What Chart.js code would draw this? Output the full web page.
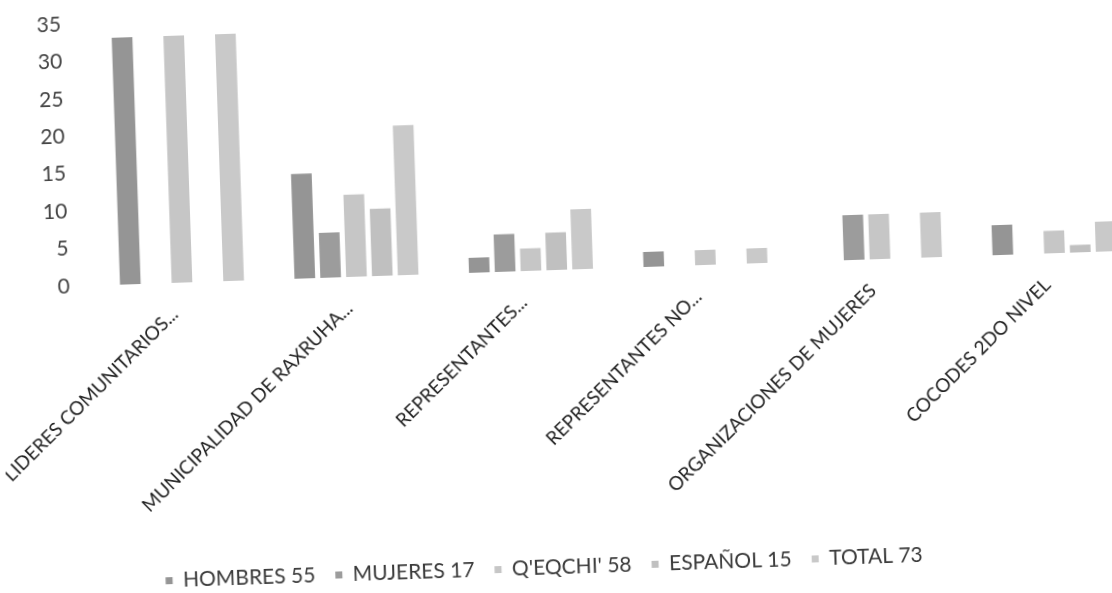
<!DOCTYPE html>
<html><head><meta charset="utf-8">
<script src="https://cdn.jsdelivr.net/npm/chart.js@4.4.1/dist/chart.umd.min.js"></script>
<style>
html,body{margin:0;padding:0;background:#fff;overflow:hidden;width:1112px;height:593px}
#page{position:absolute;left:0;top:0;width:1112px;height:593px;transform-origin:556px 296px;transform:rotate(-1.93deg)}
#box{position:absolute;left:0;top:-4px;width:1150px;height:600px}
</style></head><body>
<div id="page"><div id="box"><canvas id="c"></canvas></div></div>
<script>
const categories = ['LIDERES COMUNITARIOS...', 'MUNICIPALIDAD DE RAXRUHA...', 'REPRESENTANTES...', 'REPRESENTANTES NO...', 'ORGANIZACIONES DE MUJERES', 'COCODES 2DO NIVEL'];
const seriesNames = ['HOMBRES 55', 'MUJERES 17', "Q'EQCHI' 58", 'ESPAÑOL 15', 'TOTAL 73'];
const hombres = [33, 14, 2, 2, 0, 4];
const mujeres = [0, 6, 5, 0, 6, 0];
const qeqchi = [33, 11, 3, 2, 6, 3];
const espanol = [0, 9, 5, 0, 0, 1];
const total = [33, 20, 8, 2, 6, 4];
const yTicks = [0, 5, 10, 15, 20, 25, 30, 35];

const seriesColors = ['#959595', '#9c9c9c', '#c6c6c6', '#c0c0c0', '#c9c9c9'];
const seriesValues = [hombres, mujeres, qeqchi, espanol, total];

Chart.defaults.font.family = 'Lato, "Open Sans", sans-serif';
Chart.defaults.font.size = 21;
Chart.defaults.color = '#3a3a3a';

const legendShift = {
  id: 'legendShift',
  afterLayout(chart) {
    const l = chart.legend;
    const dx = 545 - (l.left + l.right + 20) / 2;
    l.left += dx; l.right += dx;
  }
};

new Chart(document.getElementById('c'), {
  type: 'bar',
  data: {
    labels: categories,
    datasets: seriesNames.map((n, i) => ({
      label: n,
      data: seriesValues[i],
      backgroundColor: seriesColors[i],
      borderWidth: 0,
      barPercentage: 0.8,
      categoryPercentage: 0.74
    }))
  },
  options: {
    responsive: true,
    maintainAspectRatio: false,
    animation: false,
    devicePixelRatio: 1,
    layout: { padding: { left: 29, right: 7, top: 12, bottom: 8 } },
    plugins: {
      legend: {
        position: 'bottom',
        labels: { boxWidth: 7, boxHeight: 7, padding: 20, color: '#3a3a3a' }
      },
      tooltip: { enabled: false }
    },
    scales: {
      x: {
        grid: { display: false },
        border: { display: false },
        ticks: { autoSkip: false, minRotation: 43, maxRotation: 43, labelOffset: -8, padding: 12, color: '#222', font: { size: 19 } },
        afterFit(s) { s.height = 267; s.paddingLeft = 0; s.paddingRight = 0; }
      },
      y: {
        min: 0, max: 35,
        grid: { display: false },
        border: { display: false },
        ticks: { padding: 17, color: '#444' },
        afterBuildTicks(s) { s.ticks = yTicks.map(v => ({ value: v })); },
        afterFit(s) { s.paddingTop = 0; s.paddingBottom = 0; }
      }
    }
  },
  plugins: [legendShift]
});
</script>
</body></html>
